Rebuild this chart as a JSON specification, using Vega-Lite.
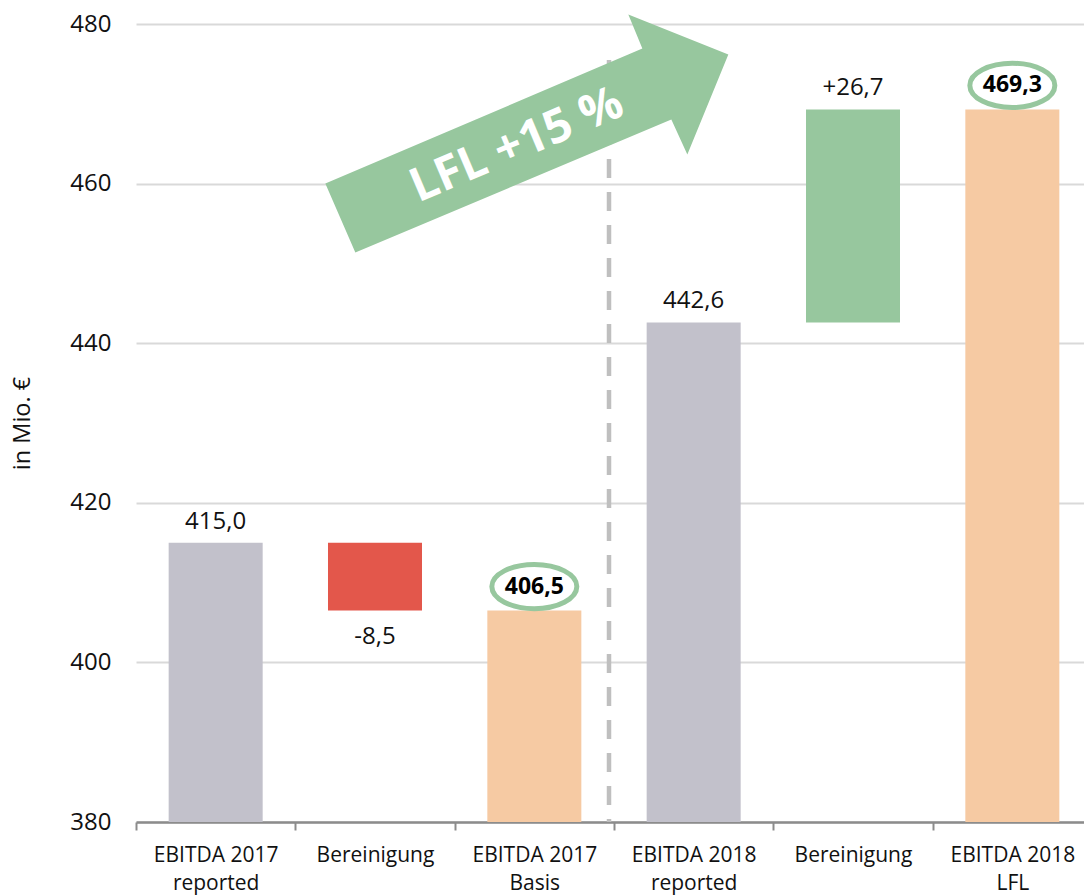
{
  "$schema": "https://vega.github.io/schema/vega-lite/v6.json",
  "width": 948,
  "height": 798,
  "autosize": "none",
  "padding": {"left": 136, "top": 24, "right": 0, "bottom": 74},
  "config": {
    "font": "Open Sans",
    "view": {"stroke": null},
    "axis": {"labelColor": "#111111", "titleColor": "#111111"}
  },
  "datasets": {
    "bars": [
      {"cat": "EBITDA 2017|reported", "start": 380, "end": 415.0, "kind": "reported", "label": "415,0", "pos": "above"},
      {"cat": "Bereinigung|1", "start": 415.0, "end": 406.5, "kind": "neg", "label": "-8,5", "pos": "below"},
      {"cat": "EBITDA 2017|Basis", "start": 380, "end": 406.5, "kind": "basis", "label": "406,5", "pos": "ring"},
      {"cat": "EBITDA 2018|reported", "start": 380, "end": 442.6, "kind": "reported", "label": "442,6", "pos": "above"},
      {"cat": "Bereinigung|2", "start": 442.6, "end": 469.3, "kind": "pos", "label": "+26,7", "pos": "above"},
      {"cat": "EBITDA 2018|LFL", "start": 380, "end": 469.3, "kind": "basis", "label": "469,3", "pos": "ring"}
    ],
    "divider": [
      {"cat": "EBITDA 2018|reported", "top": 475.5, "bottom": 380}
    ],
    "arrow": [
      {"cat": "EBITDA 2017|Basis", "y": 466, "ty": 463.15, "text": "LFL +15 %"}
    ]
  },
  "layer": [
    {
      "data": {"name": "divider"},
      "mark": {"type": "rule", "color": "#BFBFBF", "strokeWidth": 4.5, "strokeDash": [19, 14], "xOffset": -5},
      "encoding": {
        "x": {
          "field": "cat", "type": "nominal", "bandPosition": 0,
          "scale": {"domain": ["EBITDA 2017|reported", "Bereinigung|1", "EBITDA 2017|Basis", "EBITDA 2018|reported", "Bereinigung|2", "EBITDA 2018|LFL"], "range": [0, 956], "paddingInner": 0, "paddingOuter": 0},
          "axis": {
            "title": null,
            "labelExpr": "isValid(datum.value) ? (split(datum.value, '|')[0] == 'Bereinigung' ? 'Bereinigung' : split(datum.value, '|')) : ''",
            "tickBand": "extent",
            "labelAngle": 0,
            "labelFontSize": 21,
            "labelLineHeight": 28,
            "labelPadding": 14,
            "tickSize": 8,
            "tickColor": "#8C8C8C",
            "tickWidth": 2,
            "domainColor": "#8C8C8C",
            "domainWidth": 2.5,
            "grid": false
          }
        },
        "y": {
          "field": "top", "type": "quantitative",
          "scale": {"domain": [380, 480], "nice": false, "zero": false},
          "axis": {
            "values": [380, 400, 420, 440, 460, 480],
            "grid": true,
            "gridColor": "#D9D9D9",
            "gridWidth": 2,
            "domain": false,
            "ticks": false,
            "labelFontSize": 24,
            "labelPadding": 25,
            "title": "in Mio. €",
            "titleFontSize": 23.5,
            "titleFontWeight": "normal",
            "titlePadding": 35
          }
        },
        "y2": {"field": "bottom"}
      }
    },
    {
      "data": {"name": "bars"},
      "mark": {"type": "bar", "width": {"band": 0.59}},
      "encoding": {
        "x": {"field": "cat", "type": "nominal"},
        "y": {"field": "start", "type": "quantitative"},
        "y2": {"field": "end"},
        "color": {
          "field": "kind", "type": "nominal",
          "scale": {"domain": ["reported", "neg", "pos", "basis"], "range": ["#C2C1CB", "#E3574B", "#97C79E", "#F6CAA3"]},
          "legend": null
        }
      }
    },
    {
      "data": {"name": "arrow"},
      "mark": {"type": "point", "shape": "M -2.09 0.478 L -1.79 1.168 L 1.37 -0.162 L 1.53 0.188 L 1.94 -0.812 L 0.94 -1.212 L 1.08 -0.872 Z", "size": 40000, "filled": true, "color": "#97C79E", "opacity": 1, "strokeWidth": 0},
      "encoding": {
        "x": {"field": "cat", "type": "nominal"},
        "y": {"field": "y", "type": "quantitative"}
      }
    },
    {
      "data": {"name": "arrow"},
      "mark": {"type": "text", "angle": 337, "fontSize": 47, "fontWeight": "bold", "color": "#FFFFFF", "align": "center", "baseline": "alphabetic", "xOffset": -12},
      "encoding": {
        "x": {"field": "cat", "type": "nominal"},
        "y": {"field": "ty", "type": "quantitative"},
        "text": {"field": "text"}
      }
    },
    {
      "data": {"name": "bars"},
      "transform": [{"filter": "datum.pos == 'above'"}],
      "mark": {"type": "text", "fontSize": 24, "color": "#111111", "baseline": "alphabetic", "dy": -14},
      "encoding": {
        "x": {"field": "cat", "type": "nominal"},
        "y": {"field": "end", "type": "quantitative"},
        "text": {"field": "label"}
      }
    },
    {
      "data": {"name": "bars"},
      "transform": [{"filter": "datum.pos == 'below'"}],
      "mark": {"type": "text", "fontSize": 24, "color": "#111111", "baseline": "alphabetic", "dy": 33},
      "encoding": {
        "x": {"field": "cat", "type": "nominal"},
        "y": {"field": "end", "type": "quantitative"},
        "text": {"field": "label"}
      }
    },
    {
      "data": {"name": "bars"},
      "transform": [{"filter": "datum.pos == 'ring'"}],
      "mark": {"type": "point", "shape": "M -1 0 C -1 -0.29 -0.55 -0.52 0 -0.52 C 0.55 -0.52 1 -0.29 1 0 C 1 0.29 0.55 0.52 0 0.52 C -0.55 0.52 -1 0.29 -1 0 Z", "size": 7225, "filled": false, "color": "#97C79E", "strokeWidth": 5, "opacity": 1, "yOffset": -24},
      "encoding": {
        "x": {"field": "cat", "type": "nominal"},
        "y": {"field": "end", "type": "quantitative"}
      }
    },
    {
      "data": {"name": "bars"},
      "transform": [{"filter": "datum.pos == 'ring'"}],
      "mark": {"type": "text", "fontSize": 23, "fontWeight": "bold", "color": "#000000", "baseline": "middle", "yOffset": -24},
      "encoding": {
        "x": {"field": "cat", "type": "nominal"},
        "y": {"field": "end", "type": "quantitative"},
        "text": {"field": "label"}
      }
    }
  ]
}
